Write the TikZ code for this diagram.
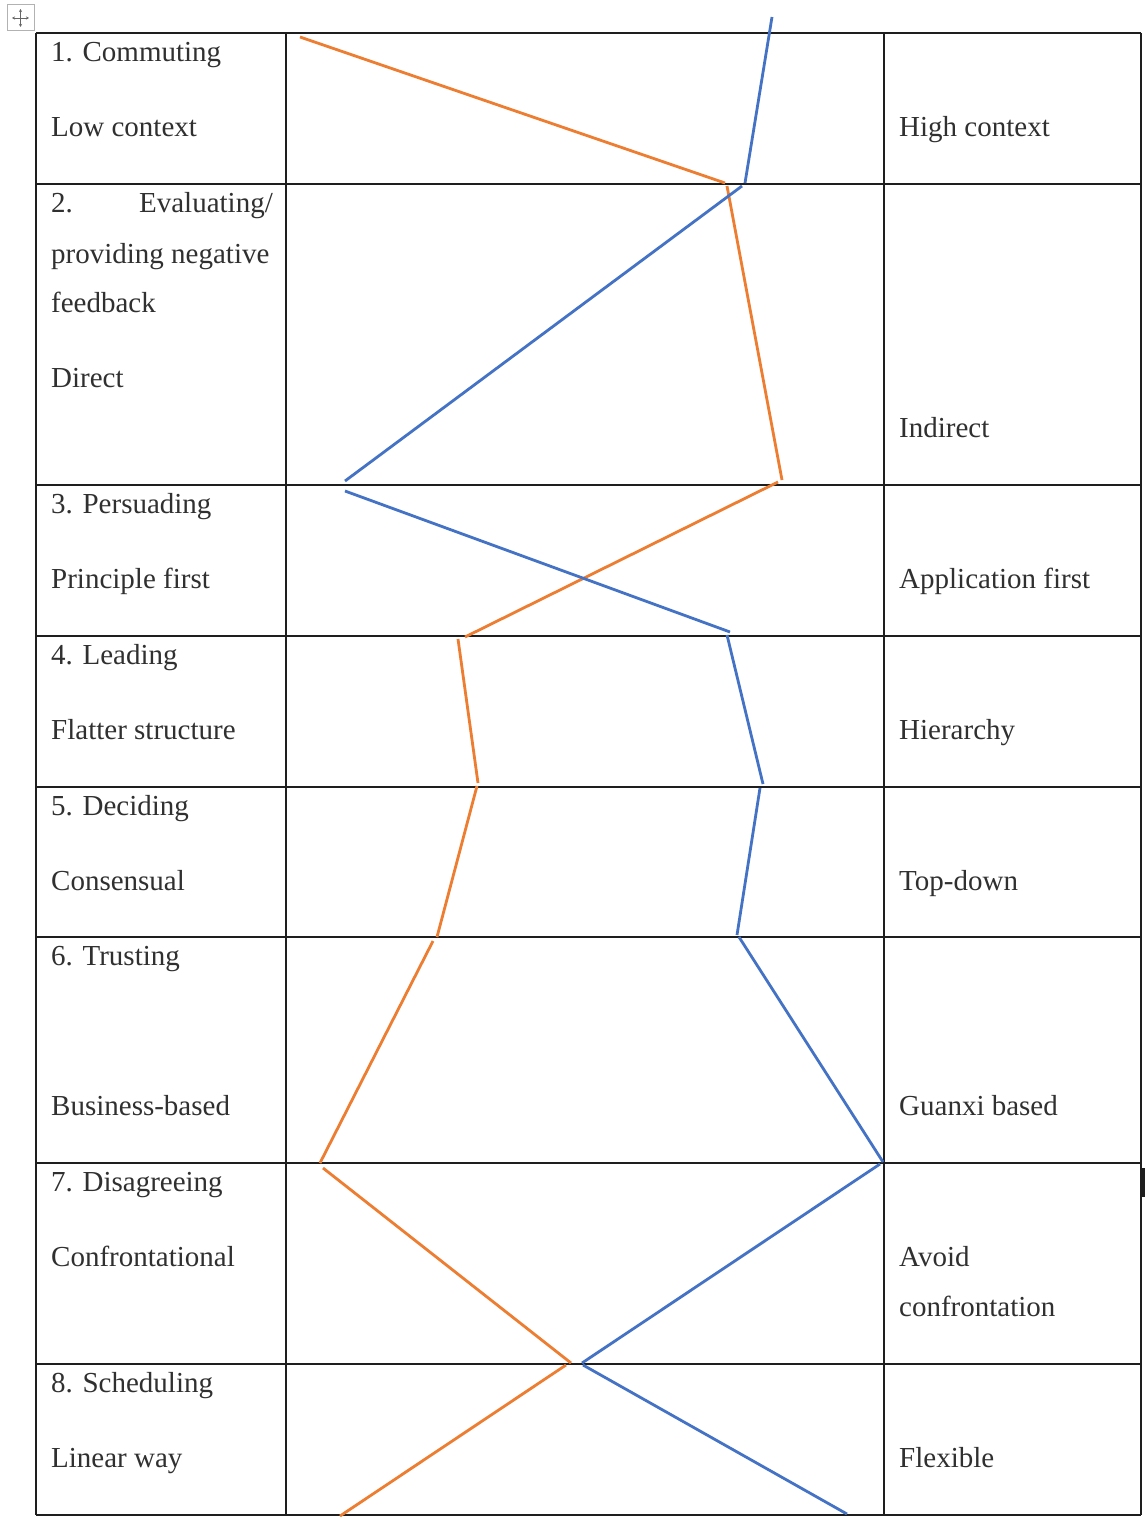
\documentclass[tikz,border=0pt]{standalone}
\usepackage{fontspec}
\setmainfont{Liberation Serif}
\usetikzlibrary{arrows.meta}
\definecolor{orng}{HTML}{ED7D31}
\definecolor{blu}{HTML}{4472C4}
\definecolor{txt}{HTML}{303030}
\definecolor{grid}{HTML}{1E1E1E}
\begin{document}
\begin{tikzpicture}[x=1pt,y=-1pt,
  gridline/.style={draw=grid,line width=1.6pt},
  lbl/.style={anchor=base west,inner sep=0pt,text=txt,font=\fontsize{29}{34}\selectfont},
  lblr/.style={anchor=base east,inner sep=0pt,text=txt,font=\fontsize{29}{34}\selectfont},
  oline/.style={draw=orng,line width=2.8pt},
  bline/.style={draw=blu,line width=2.8pt}]
\useasboundingbox (0,0) rectangle (1145,1517);
\fill[white] (0,0) rectangle (1145,1517);
% move icon
\draw[draw=black!30,line width=1pt] (7,5) rectangle (34,31);
\draw[black!60,line width=0.8pt,{Stealth[length=3pt,width=3pt]}-{Stealth[length=3pt,width=3pt]}] (12,18) -- (29,18);
\draw[black!60,line width=0.8pt,{Stealth[length=3pt,width=3pt]}-{Stealth[length=3pt,width=3pt]}] (20.5,9) -- (20.5,27);
% table grid
\foreach \yy in {33,184,485,636,787,937,1163,1364,1515}
  \draw[gridline] (36,\yy) -- (1141,\yy);
\foreach \xx in {36,286,884,1141}
  \draw[gridline] (\xx,33) -- (\xx,1515);
\fill[grid] (1142,1168) rectangle (1144.5,1197);
% left column labels
\node[lbl] (t1) at (51,62) {1. Commuting};
\node[lbl] (l1) at (51,137) {Low context};
\node[lbl] (t2a) at (51,212) {2.};
\node[lblr] (t2b) at (273,212) {Evaluating/};
\node[lbl] (t2c) at (51,263) {providing negative};
\node[lbl] (t2d) at (51,312) {feedback};
\node[lbl] (l2) at (51,387) {Direct};
\node[lbl] (t3) at (51,513) {3. Persuading};
\node[lbl] (l3) at (51,588) {Principle first};
\node[lbl] (t4) at (51,664) {4. Leading};
\node[lbl] (l4) at (51,739) {Flatter structure};
\node[lbl] (t5) at (51,815) {5. Deciding};
\node[lbl] (l5) at (51,890) {Consensual};
\node[lbl] (t6) at (51,965) {6. Trusting};
\node[lbl] (l6) at (51,1115) {Business-based};
\node[lbl] (t7) at (51,1191) {7. Disagreeing};
\node[lbl] (l7) at (51,1266) {Confrontational};
\node[lbl] (t8) at (51,1392) {8. Scheduling};
\node[lbl] (l8) at (51,1467) {Linear way};
% right column labels
\node[lbl] (r1) at (899,137) {High context};
\node[lbl] (r2) at (899,437) {Indirect};
\node[lbl] (r3) at (899,588) {Application first};
\node[lbl] (r4) at (899,739) {Hierarchy};
\node[lbl] (r5) at (899,890) {Top-down};
\node[lbl] (r6) at (899,1115) {Guanxi based};
\node[lbl] (r7a) at (899,1266) {Avoid};
\node[lbl] (r7b) at (899,1316) {confrontation};
\node[lbl] (r8) at (899,1467) {Flexible};
% orange profile
\coordinate (o1a) at (300,37);  \coordinate (o1b) at (725,183);
\coordinate (o2a) at (727,186); \coordinate (o2b) at (782,480);
\coordinate (o3a) at (778,482); \coordinate (o3b) at (465,637);
\coordinate (o4a) at (458,639); \coordinate (o4b) at (478,783);
\coordinate (o5a) at (477,786); \coordinate (o5b) at (437,937);
\coordinate (o6a) at (433,941); \coordinate (o6b) at (320,1163);
\coordinate (o7a) at (323,1168); \coordinate (o7b) at (571,1363);
\coordinate (o8a) at (566,1365); \coordinate (o8b) at (340,1516);
\foreach \s in {1,...,8} \draw[oline] (o\s a) -- (o\s b);
% blue profile
\coordinate (b1a) at (772,17);  \coordinate (b1b) at (745,183);
\coordinate (b2a) at (742,186); \coordinate (b2b) at (345,481);
\coordinate (b3a) at (345,491); \coordinate (b3b) at (730,632);
\coordinate (b4a) at (727,635); \coordinate (b4b) at (763,784);
\coordinate (b5a) at (760,788); \coordinate (b5b) at (737,935);
\coordinate (b6a) at (739,937); \coordinate (b6b) at (883,1162);
\coordinate (b7a) at (880,1164); \coordinate (b7b) at (582,1363);
\coordinate (b8a) at (583,1365); \coordinate (b8b) at (847,1514);
\foreach \s in {1,...,8} \draw[bline] (b\s a) -- (b\s b);
\end{tikzpicture}
\end{document}
